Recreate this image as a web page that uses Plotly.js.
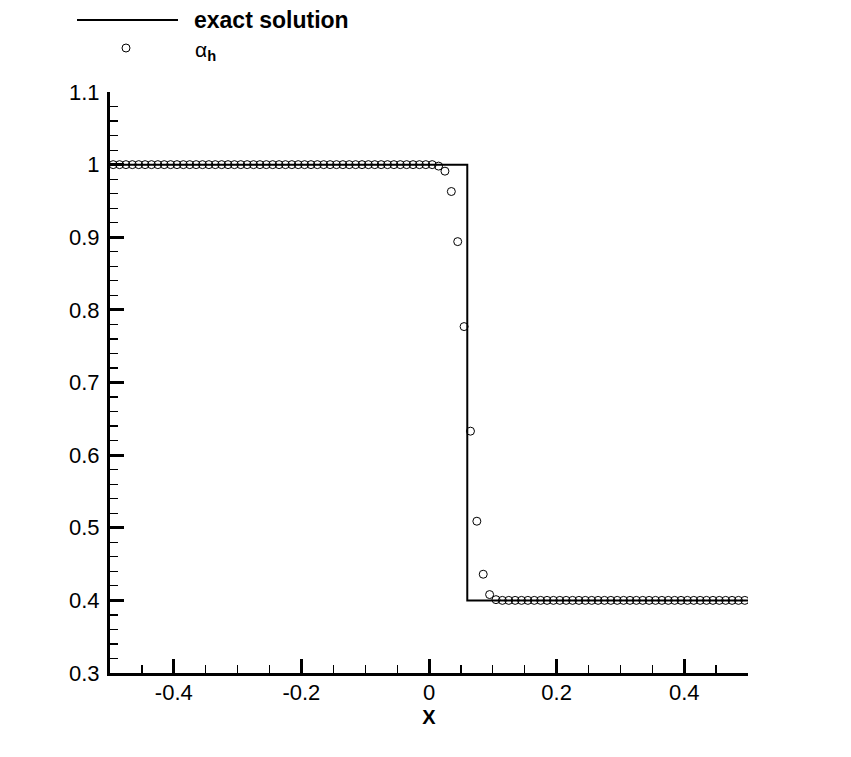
<!DOCTYPE html>
<html>
<head>
<meta charset="utf-8">
<script src="https://cdn.plot.ly/plotly-3.0.1.min.js"></script>
<style>html,body{margin:0;padding:0;background:#fff;}#chart{width:851px;height:757px;}</style>
</head>
<body>
<div id="chart"></div>
<script>
// Exact solution (step at x = 0.06)
const exactX = [-0.5, 0.06, 0.06, 0.5];
const exactY = [1.0, 1.0, 0.4, 0.4];

// Numerical solution alpha_h at cell centres
const numX = [
  -0.495,-0.485,-0.475,-0.465,-0.455,-0.445,-0.435,-0.425,-0.415,-0.405,
  -0.395,-0.385,-0.375,-0.365,-0.355,-0.345,-0.335,-0.325,-0.315,-0.305,
  -0.295,-0.285,-0.275,-0.265,-0.255,-0.245,-0.235,-0.225,-0.215,-0.205,
  -0.195,-0.185,-0.175,-0.165,-0.155,-0.145,-0.135,-0.125,-0.115,-0.105,
  -0.095,-0.085,-0.075,-0.065,-0.055,-0.045,-0.035,-0.025,-0.015,-0.005,
   0.005, 0.015, 0.025, 0.035, 0.045, 0.055, 0.065, 0.075, 0.085, 0.095,
   0.105, 0.115, 0.125, 0.135, 0.145, 0.155, 0.165, 0.175, 0.185, 0.195,
   0.205, 0.215, 0.225, 0.235, 0.245, 0.255, 0.265, 0.275, 0.285, 0.295,
   0.305, 0.315, 0.325, 0.335, 0.345, 0.355, 0.365, 0.375, 0.385, 0.395,
   0.405, 0.415, 0.425, 0.435, 0.445, 0.455, 0.465, 0.475, 0.485, 0.495
];
const numY = [
  1,1,1,1,1,1,1,1,1,1,
  1,1,1,1,1,1,1,1,1,1,
  1,1,1,1,1,1,1,1,1,1,
  1,1,1,1,1,1,1,1,1,1,
  1,1,1,1,1,1,1,1,1,1,
  1.0,0.998,0.991,0.963,0.894,0.777,0.633,0.509,0.436,0.408,
  0.401,0.4,0.4,0.4,0.4,0.4,0.4,0.4,0.4,0.4,
  0.4,0.4,0.4,0.4,0.4,0.4,0.4,0.4,0.4,0.4,
  0.4,0.4,0.4,0.4,0.4,0.4,0.4,0.4,0.4,0.4,
  0.4,0.4,0.4,0.4,0.4,0.4,0.4,0.4,0.4,0.4
];

const xTickVals = [-0.4, -0.2, 0, 0.2, 0.4];
const xTickText = ['-0.4', '-0.2', '0', '0.2', '0.4'];
const yTickVals = [0.3, 0.4, 0.5, 0.6, 0.7, 0.8, 0.9, 1, 1.1];
const yTickText = ['0.3', '0.4', '0.5', '0.6', '0.7', '0.8', '0.9', '1', '1.1'];

const legendLabels = ['exact solution', 'α<sub><b>h</b></sub>'];

const FONT = 'Liberation Sans, Arial, Helvetica, sans-serif';

const traces = [
  {
    x: exactX, y: exactY, type: 'scatter', mode: 'lines',
    line: {color: '#000', width: 2}, showlegend: false, hoverinfo: 'skip'
  },
  {
    x: numX, y: numY, type: 'scatter', mode: 'markers',
    marker: {symbol: 'circle-open', size: 8, color: '#000', line: {width: 1, color: '#000'}},
    showlegend: false, hoverinfo: 'skip'
  }
];

// helpers to convert pixel positions to paper coords for legend
const L = 110, R = 103, T = 92, B = 84, W = 851, H = 757;
const pw = W - L - R, ph = H - T - B;
const px = p => (p - L) / pw;
const py = p => (H - B - p) / ph;

const layout = {
  width: W, height: H,
  margin: {l: L, r: R, t: T, b: B, pad: 0},
  paper_bgcolor: '#fff', plot_bgcolor: '#fff',
  font: {family: FONT, color: '#000', size: 22},
  showlegend: false,
  xaxis: {
    range: [-0.5, 0.5], showgrid: false, zeroline: false,
    showline: true, linewidth: 3, linecolor: '#000', mirror: false,
    ticks: 'inside', ticklen: 14, tickwidth: 3, tickcolor: '#000',
    tickvals: xTickVals, ticktext: xTickText,
    tickfont: {family: FONT, size: 22, color: '#000'},
    ticklabelstandoff: -2,
    minor: {dtick: 0.05, tick0: 0, ticks: 'inside', ticklen: 8, tickwidth: 1.2, tickcolor: '#000', showgrid: false},
    title: {text: '<b>X</b>', font: {family: FONT, size: 20, color: '#000'}, standoff: 6}
  },
  yaxis: {
    range: [0.3, 1.1], showgrid: false, zeroline: false,
    showline: true, linewidth: 3, linecolor: '#000', mirror: false,
    ticks: 'inside', ticklen: 14, tickwidth: 3, tickcolor: '#000',
    tickvals: yTickVals, ticktext: yTickText,
    tickfont: {family: FONT, size: 22, color: '#000'},
    ticklabelstandoff: 3,
    minor: {dtick: 0.02, tick0: 0.3, ticks: 'inside', ticklen: 8, tickwidth: 1.2, tickcolor: '#000', showgrid: false}
  },
  shapes: [
    {type: 'line', xref: 'paper', yref: 'paper', x0: px(77), x1: px(178), y0: py(20), y1: py(20),
     line: {color: '#000', width: 2}},
    {type: 'circle', xref: 'paper', yref: 'paper', xsizemode: 'pixel', ysizemode: 'pixel',
     xanchor: px(126), yanchor: py(48), x0: -4, x1: 4, y0: -4, y1: 4,
     line: {color: '#000', width: 1}}
  ],
  annotations: [
    {xref: 'paper', yref: 'paper', x: px(192), y: py(20), xanchor: 'left', yanchor: 'middle',
     text: '<b>' + legendLabels[0] + '</b>', showarrow: false,
     font: {family: FONT, size: 23, color: '#000'}},
    {xref: 'paper', yref: 'paper', x: px(193), y: py(51), xanchor: 'left', yanchor: 'middle',
     text: legendLabels[1], showarrow: false,
     font: {family: FONT, size: 21, color: '#000'}}
  ]
};

Plotly.newPlot('chart', traces, layout, {staticPlot: true, displayModeBar: false});
</script>
</body>
</html>
